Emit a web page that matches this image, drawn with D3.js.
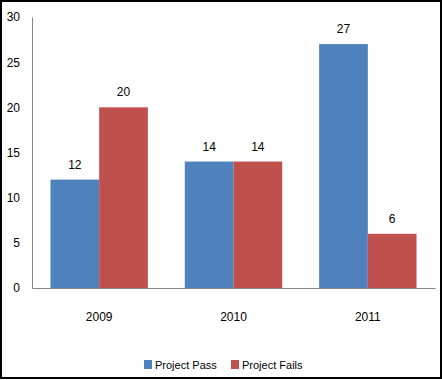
<!DOCTYPE html>
<html>
<head>
<meta charset="utf-8">
<script src="https://cdn.jsdelivr.net/npm/d3@7"></script>
<style>
  body { margin: 0; background: #fff; }
  svg { display: block; }
  text { font-family: "Liberation Sans", Arial, sans-serif; fill: #000; }
</style>
</head>
<body>
<svg id="chart"></svg>
<script>
// chart data
var years = ["2009", "2010", "2011"];
var seriesNames = ["Project Pass", "Project Fails"];
var passValues = [12, 14, 27];
var failValues = [20, 14, 6];
var yTicks = [0, 5, 10, 15, 20, 25, 30];
var seriesColors = ["#4F81BD", "#C0504D"];

var width = 442, height = 380;

var svg = d3.select("svg#chart")
    .attr("width", width)
    .attr("height", height);

// outer frame
svg.append("rect")
    .attr("x", 1).attr("y", 1)
    .attr("width", width - 2).attr("height", height - 3)
    .attr("fill", "#fff")
    .attr("stroke", "#000")
    .attr("stroke-width", 2);

// set the ranges
var x0 = d3.scaleBand().domain(years).range([32, 435]);
var gap = x0.bandwidth() * 0.275;
var x1 = d3.scaleBand().domain(seriesNames).range([gap / 2, x0.bandwidth() - gap / 2]);
var y = d3.scaleLinear().domain([0, 30]).range([288, 17]);

var rows = years.map(function(yr, i) {
  return { year: yr, values: [passValues[i], failValues[i]] };
});

var groups = svg.append("g").selectAll("g")
    .data(rows)
    .enter().append("g")
    .attr("transform", function(d) { return "translate(" + x0(d.year) + ",0)"; });

groups.selectAll("rect")
    .data(function(d) { return d.values.map(function(v, j) { return { name: seriesNames[j], value: v, idx: j }; }); })
    .enter().append("rect")
    .attr("x", function(d) { return x1(d.name); })
    .attr("y", function(d) { return y(d.value); })
    .attr("width", x1.bandwidth())
    .attr("height", function(d) { return y(0) - y(d.value); })
    .attr("fill", function(d) { return seriesColors[d.idx]; });

// data labels
groups.selectAll("text")
    .data(function(d) { return d.values.map(function(v, j) { return { name: seriesNames[j], value: v }; }); })
    .enter().append("text")
    .attr("x", function(d) { return x1(d.name) + x1.bandwidth() / 2; })
    .attr("y", function(d) { return y(d.value) - 11; })
    .attr("text-anchor", "middle")
    .style("font-size", "12px")
    .text(function(d) { return d.value; });

// the Y axis
var yAxis = svg.append("g")
    .attr("transform", "translate(32,0)")
    .call(d3.axisLeft(y).tickValues(yTicks).tickSize(0).tickPadding(12));
yAxis.select(".domain").attr("stroke", "#868686");
yAxis.selectAll("text").style("font-size", "12px").attr("fill", "#000");

// the X axis
var xAxis = svg.append("g")
    .attr("transform", "translate(0,288)")
    .call(d3.axisBottom(x0).tickSize(0).tickPadding(24));
xAxis.select(".domain").attr("stroke", "#868686");
xAxis.selectAll("text").style("font-size", "12px").attr("fill", "#000");

// legend
var legendX = [144, 231];
var legend = svg.append("g").selectAll("g")
    .data(seriesNames)
    .enter().append("g")
    .attr("transform", function(d, i) { return "translate(" + legendX[i] + ",360)"; });

legend.append("rect")
    .attr("width", 8).attr("height", 9)
    .attr("fill", function(d, i) { return seriesColors[i]; });

legend.append("text")
    .attr("x", 11).attr("y", 9)
    .style("font-size", "11px")
    .text(function(d) { return d; });
</script>
</body>
</html>
